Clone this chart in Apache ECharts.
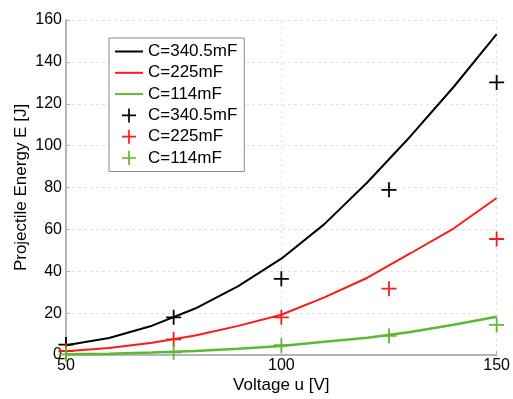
<!DOCTYPE html>
<html>
<head>
<meta charset="utf-8">
<script src="https://cdn.jsdelivr.net/npm/echarts@6/dist/echarts.min.js"></script>
<style>html,body{margin:0;padding:0;background:#fff}#c{width:513px;height:399px}</style>
</head>
<body>
<div id="c"></div>
<script>
// Model curves (computed voltage steps)
const voltages = [50, 60, 70, 80, 90, 100, 110, 120, 130, 140, 150];
const lineC340 = [4.7, 8.1, 14.0, 22.2, 32.9, 46.0, 62.5, 82.5, 104.5, 128.0, 153.3];
const lineC225 = [1.8, 3.3, 5.8, 9.3, 13.9, 19.2, 27.5, 36.9, 48.6, 60.4, 75.0];
const lineC114 = [0.3, 0.6, 1.2, 1.9, 3.0, 4.3, 6.3, 8.2, 11.0, 14.4, 18.3];
// Measurements
const testVoltages = [50, 75, 100, 125, 150];
const measC340 = [5.0, 18.0, 36.4, 78.9, 130.2];
const measC225 = [1.9, 7.5, 18.0, 31.7, 55.4];
const measC114 = [0.3, 1.3, 4.7, 9.1, 14.4];
// Labels
const seriesNames = ['C=340.5mF', 'C=225mF', 'C=114mF'];
const xTitle = 'Voltage u [V]';
const yTitle = 'Projectile Energy E [J]';

const colors = ['#000000', '#ff1a1a', '#5cb836'];
const plusPath = 'path://M4.4,0H5.6V10H4.4Z M0,4.4H10V5.6H0Z';
const linePath = 'path://M0,0H28V2H0Z';
const font = 'Liberation Sans, Arial, sans-serif';
const zip = (xs, ys) => xs.map((x, i) => [x, ys[i]]);
const lines = [lineC340, lineC225, lineC114];
const meas = [measC340, measC225, measC114];
const mName = n => n + '\u200B';

const series = [];
lines.forEach((d, i) => series.push({
  name: seriesNames[i], type: 'line', data: zip(voltages, d),
  symbol: 'none', smooth: false, z: 2,
  lineStyle: { color: colors[i], width: i === 2 ? 2.5 : 2 },
  itemStyle: { color: colors[i] }
}));
meas.forEach((d, i) => series.push({
  name: mName(seriesNames[i]), type: 'scatter', data: zip(testVoltages, d),
  symbol: plusPath, symbolSize: 15, clip: false, z: 3,
  itemStyle: { color: colors[i], opacity: 1 }
}));

const chart = echarts.init(document.getElementById('c'), null, { renderer: 'canvas' });
chart.setOption({
  animation: false,
  backgroundColor: '#fff',
  textStyle: { fontFamily: font },
  grid: { left: 66, right: 16, top: 20, bottom: 39, containLabel: false },
  legend: {
    orient: 'vertical', left: 109, top: 38,
    padding: [5, 7, 5, 6], itemGap: 4.3, itemWidth: 28, itemHeight: 14,
    backgroundColor: '#fff', borderColor: '#8a8a8a', borderWidth: 1,
    textStyle: { fontFamily: font, fontSize: 17, color: '#000' },
    data: seriesNames.map((n, i) => ({ name: n, icon: linePath, itemStyle: { color: colors[i] } }))
      .concat(seriesNames.map(n => ({ name: mName(n) })))
  },
  xAxis: {
    type: 'value', min: 50, max: 150, interval: 50,
    name: xTitle, nameLocation: 'middle', nameGap: 22, nameMoveOverlap: false,
    nameTextStyle: { fontFamily: font, fontSize: 17, color: '#000' },
    axisLine: { show: true, lineStyle: { color: '#b5b5b5', width: 2 } },
    axisTick: { show: true, inside: true, length: 4, lineStyle: { color: '#b5b5b5' } },
    axisLabel: { fontFamily: font, fontSize: 16, color: '#000', margin: 3 },
    splitLine: { show: true, lineStyle: { color: '#e2e2e2', type: [3, 3], width: 1 } }
  },
  yAxis: {
    type: 'value', min: 0, max: 160, interval: 20,
    name: yTitle, nameLocation: 'middle', nameGap: 36, nameRotate: 90, nameMoveOverlap: false,
    nameTextStyle: { fontFamily: font, fontSize: 17, color: '#000' },
    axisLine: { show: true, lineStyle: { color: '#b5b5b5', width: 2 } },
    axisTick: { show: true, inside: true, length: 4, lineStyle: { color: '#b5b5b5' } },
    axisLabel: { fontFamily: font, fontSize: 16, color: '#000', margin: 4 },
    splitLine: { show: true, lineStyle: { color: '#e2e2e2', type: [3, 3], width: 1 } }
  },
  series: series
});
</script>
</body>
</html>
